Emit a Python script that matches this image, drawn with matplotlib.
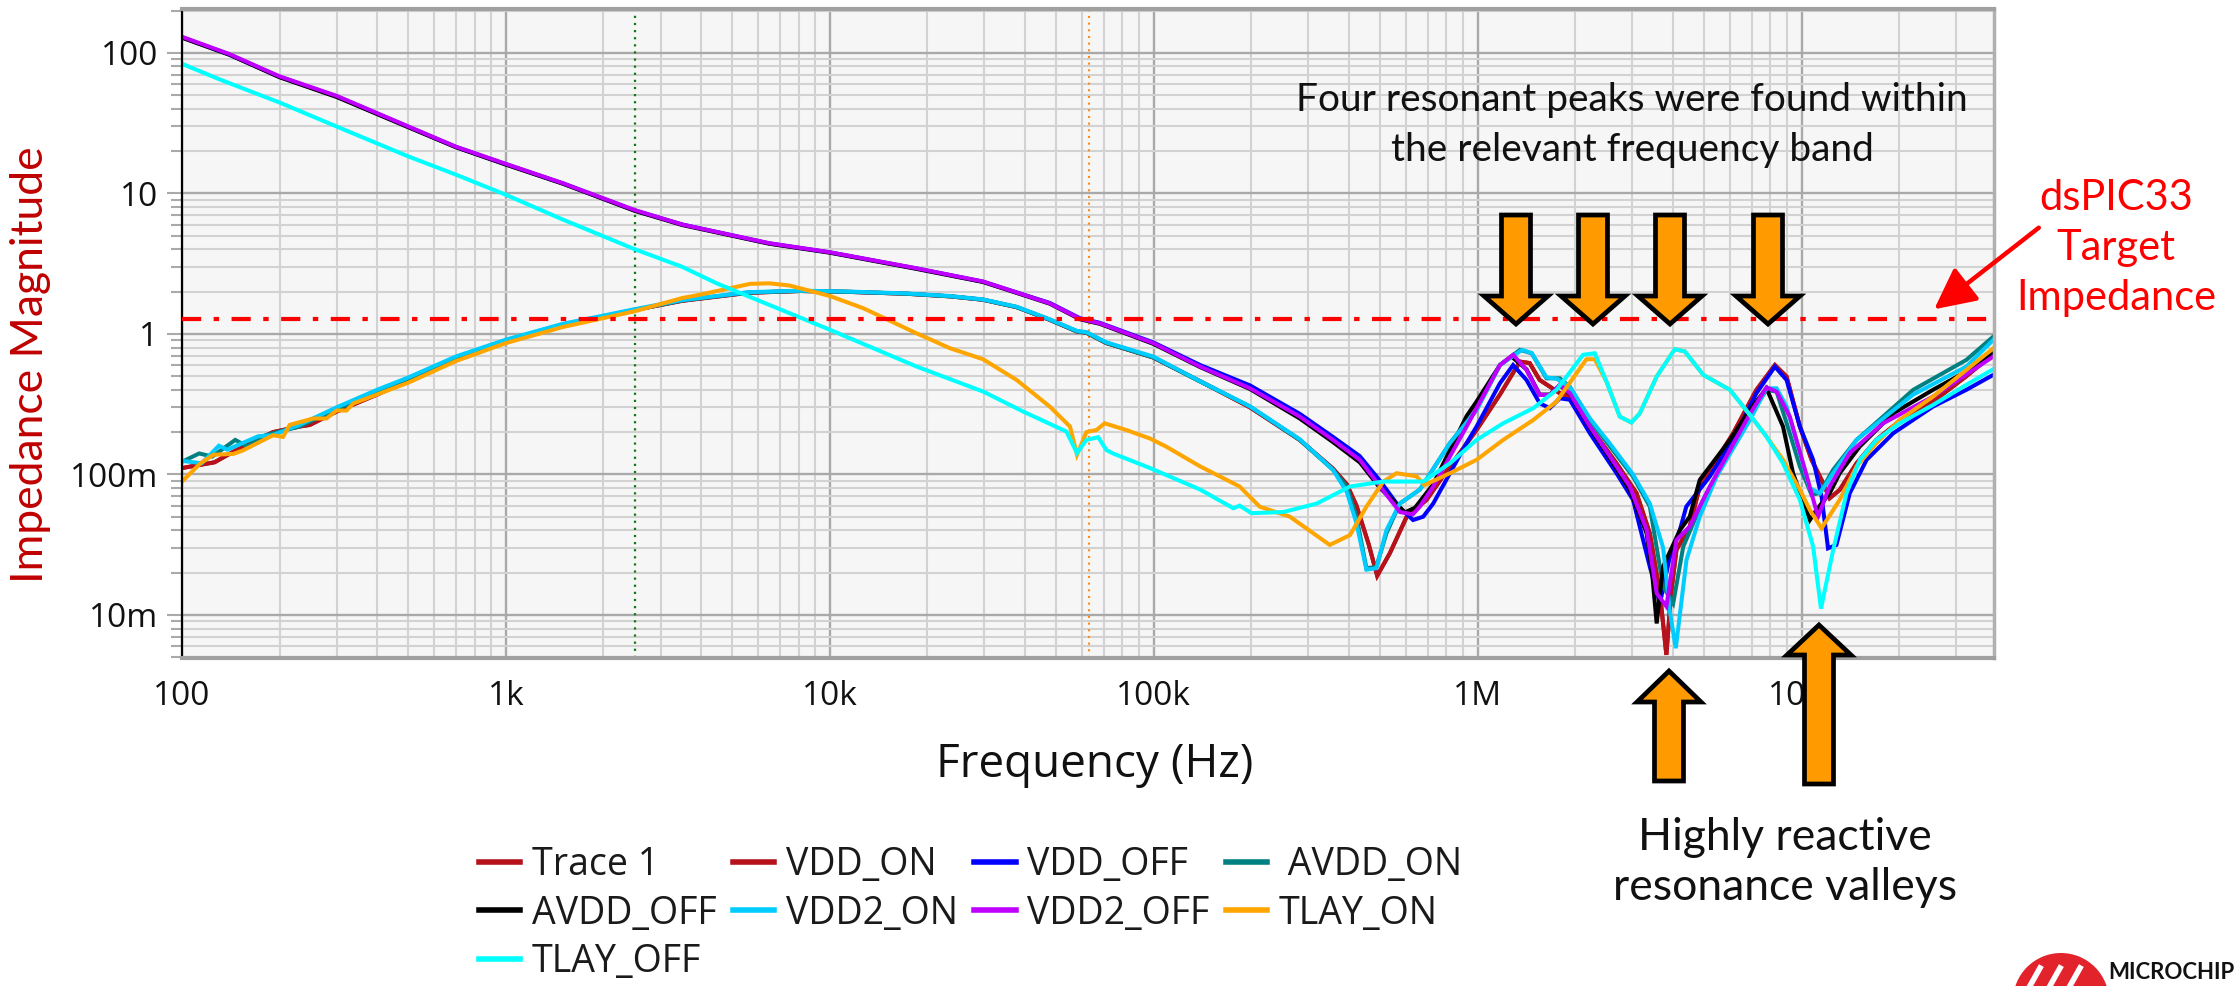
import matplotlib
matplotlib.use("Agg")
import matplotlib.pyplot as plt
from matplotlib.patches import Polygon, Wedge, FancyArrowPatch
from matplotlib.transforms import IdentityTransform
from matplotlib.ticker import FixedLocator, FixedFormatter, LogLocator, NullFormatter

plt.rcParams['font.family'] = ['Open Sans', 'DejaVu Sans']

# ---- data (Hz, ohm) ----
f_vdd_on = [100, 126, 144, 191, 230, 248, 300, 400, 500, 700, 1000, 1500, 2500, 3500, 5600, 8100,
            11500, 17300, 23500, 29700, 37700, 47700, 57900, 61900, 71400, 99500, 139000, 198000,
            282000, 357000, 394000, 422000, 460000, 489000, 535000, 603000, 695000, 820000, 991000,
            1170000, 1349000, 1445000, 1552000, 1791000, 1923000, 2218000, 2679000, 3090000, 3396000,
            3648000, 3819000, 3950000, 4102000, 4508000, 4842000, 6138000, 7244000, 8260000, 8974000,
            9863000, 10720000, 11510000, 12190000, 13090000, 14760000, 16980000, 20040000, 25410000,
            32210000, 39000000]
z_vdd_on = [0.111, 0.122, 0.145, 0.2, 0.219, 0.225, 0.28, 0.37, 0.47, 0.66, 0.88, 1.15, 1.48, 1.72, 1.96, 2.02,
            1.99, 1.93, 1.85, 1.75, 1.55, 1.26, 1.04, 1.02, 0.86, 0.68, 0.46, 0.30,
            0.176, 0.11, 0.085, 0.06, 0.032, 0.019, 0.0275, 0.05, 0.066, 0.114, 0.207,
            0.37, 0.635, 0.62, 0.47, 0.378, 0.358, 0.219, 0.12, 0.0735, 0.038,
            0.0143, 0.0052, 0.0143, 0.029, 0.0425, 0.082, 0.196, 0.4, 0.6, 0.497,
            0.219, 0.127, 0.0914, 0.0677, 0.0776, 0.12, 0.176, 0.24, 0.33,
            0.5, 0.72]

f_trace1 = f_vdd_on
z_trace1 = z_vdd_on

f_avdd_on = [100, 113, 124, 146, 159, 181, 230, 300, 400, 500, 700, 1000, 1500, 2500, 3500, 5600, 8100,
             11500, 17300, 23500, 29700, 37700, 47700, 57900, 61900, 71400, 99500, 139000, 198000,
             282000, 357000, 394000, 422000, 453000, 486000, 522000, 574000, 662000, 820000, 991000,
             1170000, 1349000, 1466000, 1629000, 1791000, 1923000, 2218000, 2559000, 3013000, 3396000,
             3733000, 4009000, 4305000, 4966000, 6000000, 6918000, 7780000, 8360000, 9183000, 9863000,
             10720000, 11380000, 12500000, 14760000, 17820000, 22080000, 32210000, 39000000]
z_avdd_on = [0.123, 0.141, 0.134, 0.176, 0.158, 0.19, 0.219, 0.29, 0.39, 0.48, 0.68, 0.9, 1.17, 1.48, 1.73, 1.97, 2.02,
             1.99, 1.93, 1.85, 1.75, 1.55, 1.26, 1.04, 1.02, 0.86, 0.68, 0.458, 0.304,
             0.176, 0.108, 0.082, 0.05, 0.0215, 0.022, 0.038, 0.062, 0.078, 0.167, 0.288,
             0.6, 0.77, 0.728, 0.483, 0.483, 0.42, 0.244, 0.158, 0.0966, 0.059,
             0.0159, 0.0121, 0.0306, 0.066, 0.149, 0.26, 0.4, 0.388, 0.196, 0.114,
             0.0715, 0.074, 0.108, 0.176, 0.258, 0.4, 0.653, 0.957]

f_vdd2_on = [100, 115, 130, 138, 172, 190, 230, 300, 400, 500, 700, 1000, 1500, 2500, 3500, 5600, 8100,
             11500, 17300, 23500, 29700, 37700, 47700, 57900, 61900, 71400, 99500, 139000, 198000,
             282000, 357000, 394000, 422000, 453000, 486000, 522000, 574000, 662000, 820000, 991000,
             1170000, 1370000, 1466000, 1629000, 1750000, 1923000, 2218000, 2559000, 3013000, 3396000,
             3733000, 3908000, 4083000, 4406000, 4842000, 5458000, 6918000, 7780000, 8360000, 8974000,
             9863000, 10590000, 11380000, 12500000, 14760000, 17820000, 22080000, 32210000, 39000000]
z_vdd2_on = [0.125, 0.12, 0.16, 0.15, 0.187, 0.19, 0.225, 0.3, 0.4, 0.49, 0.69, 0.91, 1.18, 1.5, 1.74, 1.98, 2.03,
             2.0, 1.94, 1.86, 1.76, 1.56, 1.27, 1.05, 1.03, 0.87, 0.69, 0.46, 0.305,
             0.178, 0.108, 0.075, 0.045, 0.021, 0.0215, 0.04, 0.062, 0.078, 0.167, 0.288,
             0.6, 0.77, 0.73, 0.49, 0.48, 0.42, 0.25, 0.165, 0.1, 0.062,
             0.03, 0.0109, 0.0058, 0.0246, 0.05, 0.0966, 0.244, 0.41, 0.41, 0.304,
             0.142, 0.0797, 0.0734, 0.102, 0.176, 0.25, 0.37, 0.585, 0.906]

f_vdd2_off = [100, 140, 200, 300, 500, 700, 1000, 1500, 2500, 3500, 6500, 10000, 18500, 29700, 47700,
              59200, 68000, 99500, 139000, 198000, 282000, 357000, 432000, 499000, 575000, 630000,
              662000, 728000, 923000, 1170000, 1285000, 1413000, 1552000, 1667000, 1791000, 1923000,
              2218000, 2559000, 2944000, 3319000, 3565000, 3819000, 4102000, 4508000, 5200000,
              6000000, 6918000, 7780000, 8360000, 9183000, 10300000, 11220000, 12190000, 14060000,
              17820000, 25410000, 39000000]
z_vdd2_off = [130, 98, 68, 49.4, 29.9, 21.5, 16.2, 11.8, 7.6, 6.0, 4.42, 3.81, 2.93, 2.36, 1.65,
              1.28, 1.19, 0.86, 0.585, 0.41, 0.258, 0.176, 0.127, 0.082, 0.054, 0.052,
              0.059, 0.082, 0.219, 0.6, 0.71, 0.554, 0.368, 0.368, 0.434, 0.378,
              0.219, 0.134, 0.082, 0.0403, 0.0143, 0.0115, 0.0342, 0.0425, 0.082,
              0.149, 0.27, 0.416, 0.388, 0.258, 0.102, 0.05, 0.082, 0.142,
              0.231, 0.358, 0.69]

f_avdd_off = [100, 140, 200, 300, 500, 700, 1000, 1500, 2500, 3500, 6500, 10000, 18500, 29700, 47700,
              59200, 68000, 99500, 139000, 198000, 282000, 357000, 432000, 499000, 596000, 640000,
              728000, 923000, 991000, 1170000, 1270000, 1413000, 1552000, 1667000, 1791000, 1923000,
              2218000, 2559000, 2944000, 3319000, 3450000, 3565000, 3730000, 4200000, 4508000,
              4842000, 6000000, 6918000, 7780000, 8750000, 9397000, 10590000, 11090000, 12190000,
              13090000, 15100000, 19140000, 25410000, 32210000, 39000000]
z_avdd_off = [128, 97, 67, 48.5, 29.5, 21.3, 16.0, 11.7, 7.5, 5.95, 4.38, 3.78, 2.9, 2.34, 1.64,
              1.27, 1.18, 0.85, 0.58, 0.405, 0.25, 0.17, 0.122, 0.08, 0.0537, 0.058,
              0.085, 0.26, 0.33, 0.6, 0.69, 0.56, 0.37, 0.37, 0.43, 0.375,
              0.215, 0.13, 0.078, 0.038, 0.02, 0.0087, 0.022, 0.04, 0.05,
              0.0914, 0.176, 0.288, 0.41, 0.219, 0.102, 0.0474, 0.0558, 0.0734,
              0.102, 0.158, 0.272, 0.4, 0.54, 0.728]

f_vdd_off = [100, 140, 200, 300, 500, 700, 1000, 1500, 2500, 3500, 6500, 10000, 18500, 29700, 47700,
             59200, 68000, 99500, 139000, 198000, 282000, 357000, 432000, 499000, 574000, 631000,
             678000, 728000, 923000, 991000, 1170000, 1285000, 1413000, 1552000, 1667000, 1791000,
             1923000, 2218000, 2679000, 3013000, 3396000, 3648000, 3900000, 4200000, 4400000,
             5200000, 6138000, 7244000, 8260000, 8974000, 9863000, 10840000, 11510000, 12050000,
             12790000, 14060000, 15850000, 19140000, 25410000, 32210000, 39000000]
z_vdd_off = [129, 97, 67.5, 49, 29.7, 21.4, 16.1, 11.75, 7.55, 6.0, 4.4, 3.8, 2.92, 2.35, 1.66,
             1.29, 1.2, 0.87, 0.6, 0.43, 0.27, 0.185, 0.135, 0.09, 0.058, 0.0474,
             0.05, 0.062, 0.167, 0.219, 0.445, 0.6, 0.47, 0.321, 0.296, 0.348,
             0.34, 0.196, 0.102, 0.066, 0.022, 0.0121, 0.025, 0.04, 0.059,
             0.0966, 0.176, 0.378, 0.585, 0.47, 0.219, 0.127, 0.0695, 0.0298,
             0.0315, 0.0734, 0.127, 0.196, 0.304, 0.4, 0.511]

f_tlay_on = [100, 114, 125, 144, 154, 191, 205, 215, 254, 279, 300, 322, 338, 500, 700, 1000, 1500, 2500,
             3500, 3970, 5670, 6500, 7500, 10000, 12700, 18500, 23500, 29700, 37700, 47700, 55100,
             57900, 61900, 66500, 70500, 82200, 97300, 109000, 139000, 184000, 212000, 263000, 349000,
             403000, 453000, 511000, 561000, 646000, 685000, 820000, 991000, 1197000, 1483000, 1750000,
             2163000, 2296000, 2495000, 2742000, 2979000, 3162000, 3565000, 4055000, 4355000, 4966000,
             6000000, 6918000, 7780000, 8750000, 9863000, 10590000, 11510000, 13090000, 14760000,
             16980000, 20040000, 25410000, 32210000, 39000000]
z_tlay_on = [0.089, 0.12, 0.138, 0.14, 0.148, 0.19, 0.185, 0.225, 0.25, 0.25, 0.285, 0.285, 0.32, 0.45, 0.64, 0.86, 1.12, 1.45,
             1.8, 1.9, 2.27, 2.29, 2.21, 1.86, 1.52, 1.01, 0.79, 0.66, 0.47, 0.304, 0.219,
             0.138, 0.2, 0.207, 0.231, 0.207, 0.18, 0.158, 0.114, 0.082, 0.059, 0.05, 0.0315,
             0.037, 0.059, 0.089, 0.102, 0.097, 0.084, 0.102, 0.127, 0.176, 0.244, 0.33,
             0.66, 0.66, 0.458, 0.258, 0.234, 0.272, 0.497, 0.778, 0.75, 0.511,
             0.4, 0.265, 0.186, 0.127, 0.078, 0.0558, 0.0414, 0.066, 0.114,
             0.167, 0.244, 0.358, 0.554, 0.79]

f_tlay_off = [100, 130, 160, 200, 300, 500, 700, 1000, 1500, 2500, 3500, 4470, 10000, 18500, 29700, 39500,
              53700, 57900, 61900, 67300, 71400, 74800, 97300, 139000, 176000, 184000, 200000, 251000,
              318000, 403000, 511000, 678000, 820000, 991000, 1197000, 1483000, 1750000, 2113000,
              2296000, 2495000, 2742000, 2979000, 3162000, 3565000, 4055000, 4355000, 4966000, 6000000,
              6918000, 7780000, 8750000, 9863000, 10840000, 11460000, 12500000, 13740000, 15100000,
              16980000, 20040000, 25410000, 32210000, 39000000]
z_tlay_off = [83.5, 65, 54, 44.3, 29.9, 18.3, 13.6, 9.76, 6.5, 4.0, 3.0, 2.29, 1.07, 0.586, 0.389, 0.28,
              0.202, 0.142, 0.176, 0.184, 0.149, 0.141, 0.111, 0.078, 0.0574, 0.06, 0.053, 0.054,
              0.062, 0.082, 0.089, 0.089, 0.12, 0.176, 0.231, 0.296, 0.4, 0.71,
              0.728, 0.458, 0.258, 0.234, 0.272, 0.497, 0.778, 0.75, 0.511, 0.4,
              0.265, 0.186, 0.12, 0.066, 0.0306, 0.0111, 0.029, 0.0734, 0.127,
              0.176, 0.231, 0.312, 0.434, 0.561]

target_z = 1.28
marker_freqs = [2500, 63000]
x_tick_vals = [1e2, 1e3, 1e4, 1e5, 1e6, 1e7]
x_tick_labels = ['100', '1k', '10k', '100k', '1M', '10M']
y_tick_vals = [0.01, 0.1, 1, 10, 100]
y_tick_labels = ['10m', '100m', '1', '10', '100']

traces = [
    ('Trace 1', f_trace1, z_trace1, '#b5121b'),
    ('VDD_ON', f_vdd_on, z_vdd_on, '#b5121b'),
    ('VDD_OFF', f_vdd_off, z_vdd_off, '#0000ff'),
    (' AVDD_ON', f_avdd_on, z_avdd_on, '#008080'),
    ('AVDD_OFF', f_avdd_off, z_avdd_off, '#000000'),
    ('VDD2_ON', f_vdd2_on, z_vdd2_on, '#00ccff'),
    ('VDD2_OFF', f_vdd2_off, z_vdd2_off, '#bf00ff'),
    ('TLAY_ON', f_tlay_on, z_tlay_on, '#ffa500'),
    ('TLAY_OFF', f_tlay_off, z_tlay_off, '#00ffff'),
]

W, H = 2235, 986
fig = plt.figure(figsize=(W / 100, H / 100), dpi=100)
ax = fig.add_axes([182 / W, 1 - 658 / H, (1994 - 182) / W, (658 - 9) / H])
ax.set_facecolor('#f6f6f6')


def fpos(x, y):
    # pixel position (from top left) -> figure fraction
    return (x / W, 1 - y / H)


lines = {}
for name, f, z, c in traces:
    ln, = ax.plot(f, z, color=c, lw=2.9, label=name, solid_joinstyle='miter')
    lines[name] = ln

ax.set_xscale('log')
ax.set_yscale('log')
ax.set_xlim(100, 3.92e7)
ax.set_ylim(4.94e-3, 205)

ax.axhline(target_z, color='#ff0000', lw=3, linestyle=(0, (4.6, 3.0, 1.3, 3.0)), zorder=5)
ax.axvline(marker_freqs[0], color='#0f7a0f', lw=1.6, linestyle=(0, (1, 2.2)), zorder=1)
ax.axvline(marker_freqs[1], color='#ff8a1a', lw=1.5, linestyle=(0, (1, 2.2)), zorder=1)

ax.xaxis.set_major_locator(FixedLocator(x_tick_vals))
ax.xaxis.set_major_formatter(FixedFormatter(x_tick_labels))
ax.yaxis.set_major_locator(FixedLocator(y_tick_vals))
ax.yaxis.set_major_formatter(FixedFormatter(y_tick_labels))
for axis in (ax.xaxis, ax.yaxis):
    axis.set_minor_locator(LogLocator(base=10, subs=range(2, 10), numticks=30))
    axis.set_minor_formatter(NullFormatter())

ax.grid(which='major', color='#a9a9a9', lw=1.7)
ax.grid(which='minor', color='#d2d2d2', lw=1.5)
ax.set_axisbelow(True)

ax.tick_params(axis='y', which='major', length=11, width=1.5, color='#aaaaaa',
               labelsize=24, pad=6, labelcolor='#111111')
ax.tick_params(axis='y', which='minor', length=8, width=1.5, color='#aaaaaa')
ax.tick_params(axis='x', which='both', length=0, labelsize=24, pad=16, labelcolor='#111111')

ax.spines['left'].set_color('#000000')
ax.spines['left'].set_linewidth(1.6)
for s in ('top', 'bottom'):
    ax.spines[s].set_color('#a0a0a0')
    ax.spines[s].set_linewidth(3)
ax.spines['right'].set_color('#b0b0b0')
ax.spines['right'].set_linewidth(2.5)

ax.set_xlabel('Frequency (Hz)', fontsize=33, color='#111111', va='center')
ax.xaxis.set_label_coords((1095 - 182) / 1812, -(765 - 658) / 649)
ax.set_ylabel('Impedance Magnitude', fontsize=32, color='#c00000', family=['Lato', 'DejaVu Sans'],
              va='center')
ax.yaxis.set_label_coords(-(182 - 31) / 1812, (658 - 365) / 649)

# annotations
fig.text(*fpos(1632, 100), 'Four resonant peaks were found within', fontsize=28,
         family=['Lato', 'DejaVu Sans'], ha='center', va='center', color='#111111')
fig.text(*fpos(1632, 150), 'the relevant frequency band', fontsize=28,
         family=['Lato', 'DejaVu Sans'], ha='center', va='center', color='#111111')
for i, t in enumerate(['dsPIC33', 'Target', 'Impedance']):
    fig.text(*fpos(2116, 198 + 50 * i), t, fontsize=30, family=['Lato', 'DejaVu Sans'],
             ha='center', va='center', color='#ff0000')
fig.text(*fpos(1785, 838), 'Highly reactive', fontsize=32, family=['Lato', 'DejaVu Sans'],
         ha='center', va='center', color='#111111')
fig.text(*fpos(1785, 887), 'resonance valleys', fontsize=32, family=['Lato', 'DejaVu Sans'],
         ha='center', va='center', color='#111111')

red_arrow = FancyArrowPatch(fpos(2041, 226), fpos(1932, 311), transform=fig.transFigure,
                            arrowstyle='-|>,head_length=0.9,head_width=0.45', mutation_scale=28,
                            color='#ff0000', lw=3.2, zorder=10)
fig.add_artist(red_arrow)


def block_arrow(cx, tail, head_base, tip):
    # vertical block arrow, pixel coords from top-left
    sw, hw = 14.5, 32
    pts = [(cx - sw, tail), (cx + sw, tail), (cx + sw, head_base), (cx + hw, head_base),
           (cx, tip), (cx - hw, head_base), (cx - sw, head_base)]
    poly = Polygon([fpos(x, y) for x, y in pts], closed=True, transform=fig.transFigure,
                   facecolor='#ff9a00', edgecolor='#000000', lw=3.4, joinstyle='miter',
                   zorder=12)
    fig.add_artist(poly)


for cx in [1516, 1593, 1670, 1768]:
    block_arrow(cx, 215, 296, 324)
block_arrow(1669, 781, 702, 671)
block_arrow(1819, 784, 655, 625)

# legend (column-major order so that it reads row by row)
order = ['Trace 1', 'AVDD_OFF', 'TLAY_OFF', 'VDD_ON', 'VDD2_ON', 'VDD_OFF', 'VDD2_OFF',
         ' AVDD_ON', 'TLAY_ON']
leg = fig.legend([lines[n] for n in order], order, ncol=4, loc='upper left',
                 bbox_to_anchor=fpos(479, 846), frameon=False, fontsize=27,
                 handlelength=1.1, handletextpad=0.3, columnspacing=0.45,
                 labelspacing=0.28, borderpad=0, borderaxespad=0)
for t in leg.get_texts():
    t.set_color('#1a1a1a')
for h in leg.legend_handles:
    h.set_linewidth(4)

# logo fragment in the corner
fig.add_artist(Wedge((2061, H - 1001), 48, 0, 360, transform=IdentityTransform(),
                     facecolor='#e3232b', edgecolor='none', zorder=3))
for dx in (-18, 2, 22):
    fig.add_artist(plt.Line2D([2040 + dx, 2058 + dx], [H - 1000, H - 968],
                              transform=IdentityTransform(), color='white', lw=4, zorder=4))
fig.text(*fpos(2108, 962), 'MICROCHIP', fontsize=16, weight='bold', family=['Lato', 'DejaVu Sans'],
         ha='left', va='top', color='#111111')

fig.savefig('out.png', dpi=100)
